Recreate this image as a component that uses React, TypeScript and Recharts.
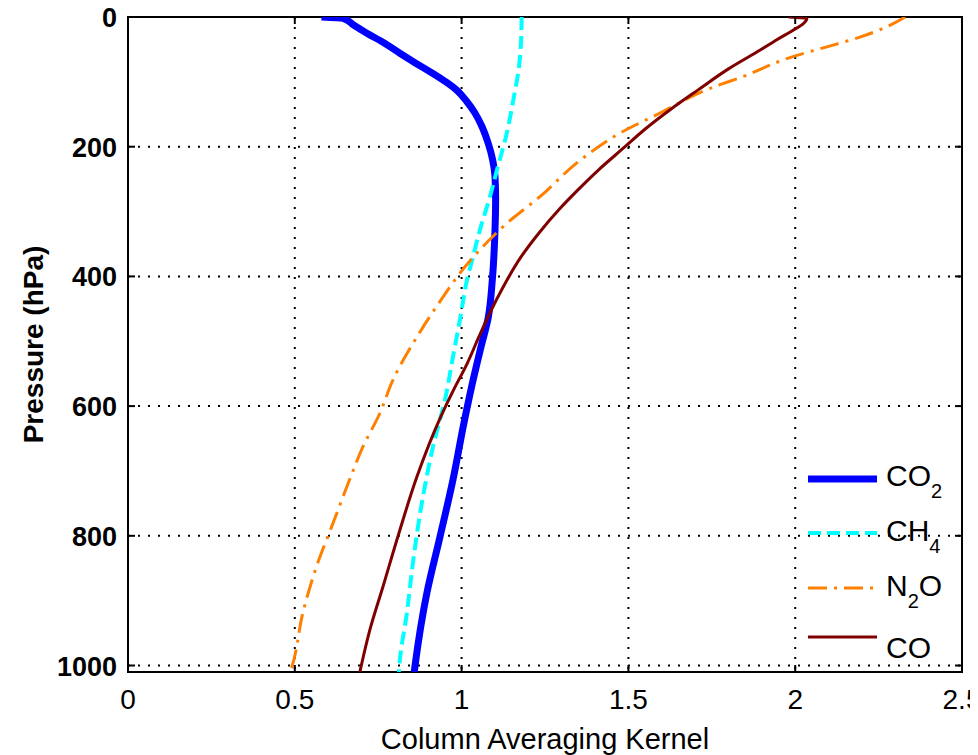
import { LineChart, Line, XAxis, YAxis, CartesianGrid, ReferenceArea, Legend } from "recharts";

// pressure (hPa) and column averaging kernel, per species
const co2P = [0, 2, 12, 25, 40, 56, 72, 87, 100, 113, 130, 148, 170, 195, 220, 245, 280, 330, 406, 463, 509, 570, 626, 714, 802, 888, 1002, 1010];
const co2K = [0.58, 0.645, 0.675, 0.716, 0.768, 0.815, 0.865, 0.914, 0.953, 0.986, 1.015, 1.04, 1.062, 1.08, 1.093, 1.1, 1.102, 1.1, 1.092, 1.08, 1.058, 1.03, 1.007, 0.974, 0.935, 0.896, 0.86, 0.858];

const ch4P = [0, 40, 77, 128, 178, 236, 277, 328, 370, 406, 467, 524, 586, 663, 740, 842, 919, 991, 1010];
const ch4K = [1.18, 1.178, 1.172, 1.155, 1.136, 1.106, 1.085, 1.055, 1.034, 1.016, 0.995, 0.974, 0.952, 0.914, 0.884, 0.854, 0.836, 0.815, 0.812];

const n2oP = [0, 15, 31, 46, 61, 92, 110, 148, 179, 221, 277, 318, 364, 395, 432, 490, 560, 611, 663, 719, 780, 846, 917, 1004, 1010];
const n2oK = [2.33, 2.275, 2.194, 2.095, 1.993, 1.843, 1.745, 1.595, 1.475, 1.355, 1.235, 1.136, 1.046, 0.995, 0.944, 0.87, 0.794, 0.755, 0.704, 0.66, 0.615, 0.566, 0.525, 0.49, 0.486];

const coP = [0, 2, 10, 20, 35, 51, 80, 112, 143, 175, 200, 236, 267, 298, 333, 370, 416, 456, 493, 534, 575, 617, 709, 791, 879, 945, 1010];
const coK = [1.98, 2.035, 2.025, 1.995, 1.945, 1.895, 1.8, 1.71, 1.625, 1.545, 1.49, 1.41, 1.348, 1.29, 1.232, 1.178, 1.125, 1.085, 1.052, 1.017, 0.976, 0.937, 0.866, 0.815, 0.764, 0.725, 0.695];

const xTicks = [0, 0.5, 1, 1.5, 2, 2.5];
const yTicks = [0, 200, 400, 600, 800, 1000];

const species = [
  { key: "co2", base: "CO", sub: "2", tail: "", p: co2P, k: co2K, color: "#0000ff", width: 7, dash: undefined },
  { key: "ch4", base: "CH", sub: "4", tail: "", p: ch4P, k: ch4K, color: "#00ffff", width: 4, dash: "13 6" },
  { key: "n2o", base: "N", sub: "2", tail: "O", p: n2oP, k: n2oK, color: "#ff8000", width: 3, dash: "19 7 3 7" },
  { key: "co", base: "CO", sub: "", tail: "", p: coP, k: coK, color: "#800000", width: 3, dash: undefined },
];

const W = 978;
const H = 755;
const PLOT = { left: 128, right: 962, top: 17, bottom: 672 };
const SANS = "'Liberation Sans', Arial, sans-serif";

function XTick({ x, payload }: any) {
  return (
    <g>
      <line x1={x} x2={x} y1={PLOT.bottom} y2={PLOT.bottom - 7} stroke="#000" strokeWidth={2} />
      <line x1={x} x2={x} y1={PLOT.top} y2={PLOT.top + 7} stroke="#000" strokeWidth={2} />
      <text x={x} y={PLOT.bottom + 37} textAnchor="middle" fontSize={28}
        fontFamily="'Liberation Sans Narrow', 'Arial Narrow', 'Liberation Sans', sans-serif" fill="#000">
        {payload.value}
      </text>
    </g>
  );
}

function YTick({ y, payload }: any) {
  return (
    <g>
      <line x1={PLOT.left} x2={PLOT.left + 7} y1={y} y2={y} stroke="#000" strokeWidth={2} />
      <line x1={PLOT.right} x2={PLOT.right - 7} y1={y} y2={y} stroke="#000" strokeWidth={2} />
      <text x={PLOT.left - 11} y={y + 10} textAnchor="end" fontSize={27} fontWeight="bold" fontFamily={SANS} fill="#000">
        {payload.value}
      </text>
    </g>
  );
}

function LegendBox() {
  const rows = [21, 75, 130, 179];
  const textY = [28, 83, 138, 200];
  return (
    <svg width={170} height={220} style={{ display: "block" }}>
      {species.map((s, i) => (
        <g key={s.key}>
          <line x1={10} x2={79} y1={rows[i]} y2={rows[i]} stroke={s.color} strokeWidth={s.width} strokeDasharray={s.dash} />
          <text x={88} y={textY[i]} fontSize={30} fontFamily={SANS} fill="#000">
            {s.base}
            {s.sub && <tspan fontSize={20} dy={12}>{s.sub}</tspan>}
            {s.tail && <tspan dy={-12}>{s.tail}</tspan>}
          </text>
        </g>
      ))}
    </svg>
  );
}

export default function App() {
  return (
    <div style={{ width: W, height: H, margin: "-8px 0 0 -8px", background: "#fff" }}>
      <LineChart width={W} height={H} margin={{ top: PLOT.top, right: W - PLOT.right, left: 0, bottom: 0 }}>
        <CartesianGrid stroke="#000" strokeWidth={2} strokeDasharray="2 8" />
        <XAxis
          type="number"
          dataKey="k"
          domain={[0, 2.5]}
          ticks={xTicks}
          allowDataOverflow
          axisLine={false}
          tickLine={false}
          height={H - PLOT.bottom}
          tick={<XTick />}
          label={{
            value: "Column Averaging Kernel",
            position: "insideBottom",
            offset: 6,
            fontSize: 29,
            fill: "#000",
            fontFamily: SANS,
          }}
        />
        <YAxis
          type="number"
          domain={[0, 1010]}
          reversed
          ticks={yTicks}
          allowDataOverflow
          axisLine={false}
          tickLine={false}
          width={PLOT.left}
          tick={<YTick />}
          label={{
            content: ({ viewBox }: any) => {
              const cx = viewBox.x + 33;
              const cy = viewBox.y + viewBox.height / 2;
              return (
                <text x={cx} y={cy} transform={`rotate(-90 ${cx} ${cy})`} textAnchor="middle" dominantBaseline="central"
                  fontSize={28} fontWeight="bold" fontFamily={SANS} fill="#000">
                  Pressure (hPa)
                </text>
              );
            },
          }}
        />
        <ReferenceArea x1={0} x2={2.5} y1={0} y2={1010} fill="none" stroke="#000" strokeWidth={2} ifOverflow="visible" />
        {species.map((s) => (
          <Line
            key={s.key}
            data={s.p.map((p, i) => ({ k: s.k[i], p }))}
            dataKey="p"
            stroke={s.color}
            strokeWidth={s.width}
            strokeDasharray={s.dash}
            dot={false}
            activeDot={false}
            type="monotoneY"
            isAnimationActive={false}
          />
        ))}
        <Legend
          layout="horizontal"
          verticalAlign="middle"
          align="center"
          wrapperStyle={{ left: 798, top: 458, width: 170, height: 220 }}
          content={() => <LegendBox />}
        />
      </LineChart>
    </div>
  );
}
